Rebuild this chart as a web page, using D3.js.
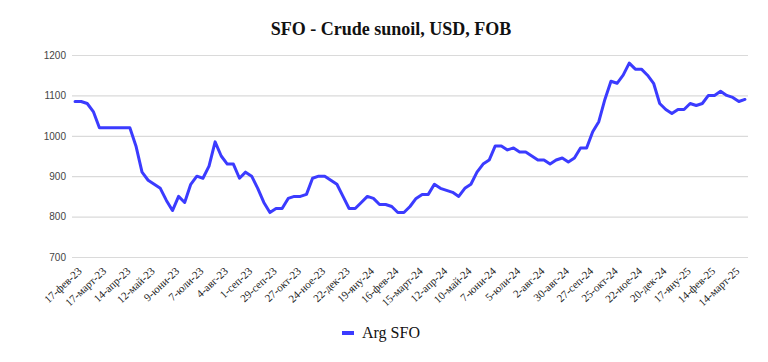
<!DOCTYPE html>
<html>
<head>
<meta charset="utf-8">
<script src="https://cdn.jsdelivr.net/npm/d3@7"></script>
<style>
  body { margin: 0; background: #fff; }
  svg { display: block; }
  .serif { font-family: 'Liberation Serif', 'Times New Roman', 'DejaVu Serif', serif; }
  .sans { font-family: 'Liberation Sans', Arial, sans-serif; }
</style>
</head>
<body>
<svg id="chart" width="768" height="362"></svg>
<script>
// weekly prices, 17-фев-23 .. 28-март-25
const price = [
  1085, 1085, 1080, 1060, 1020, 1020, 1020, 1020, 1020, 1020,
  975, 910, 890, 880, 870, 840, 815, 850, 835, 880,
  900, 895, 925, 985, 950, 930, 930, 895, 910, 900,
  870, 835, 810, 820, 820, 845, 850, 850, 855, 895,
  900, 900, 890, 880, 850, 820, 820, 835, 850, 845,
  830, 830, 825, 810, 810, 825, 845, 855, 855, 880,
  870, 865, 860, 850, 870, 880, 910, 930, 940, 975,
  975, 965, 970, 960, 960, 950, 940, 940, 930, 940,
  945, 935, 945, 970, 970, 1010, 1035, 1090, 1135, 1130,
  1150, 1180, 1165, 1165, 1150, 1130, 1080, 1065, 1055, 1065,
  1065, 1080, 1075, 1080, 1100, 1100, 1110, 1100, 1095, 1085, 1090
];

// one label every 4th week
const tickLabels = [
  '17-фев-23', '17-март-23', '14-апр-23', '12-май-23', '9-юни-23', '7-юли-23',
  '4-авг-23', '1-сеп-23', '29-сеп-23', '27-окт-23', '24-ное-23', '22-дек-23',
  '19-яну-24', '16-фев-24', '15-март-24', '12-апр-24', '10-май-24', '7-юни-24',
  '5-юли-24', '2-авг-24', '30-авг-24', '27-сеп-24', '25-окт-24', '22-ное-24',
  '20-дек-24', '17-яну-25', '14-фев-25', '14-март-25'
];
const yTicks = [700, 800, 900, 1000, 1100, 1200];
const seriesName = 'Arg SFO';
const title = 'SFO - Crude sunoil, USD, FOB';

const lineColor = '#3b3bff';
const svg = d3.select('#chart');

// plot box
const plot = { left: 72, right: 748, top: 55, bottom: 257 };

const x = d3.scalePoint()
  .domain(d3.range(price.length))
  .range([plot.left, plot.right])
  .padding(0.5);

const y = d3.scaleLinear()
  .domain([700, 1200])
  .range([plot.bottom, plot.top]);

// title
svg.append('text')
  .attr('class', 'serif')
  .attr('x', 391)
  .attr('y', 35)
  .attr('text-anchor', 'middle')
  .attr('font-weight', 'bold')
  .attr('font-size', 18)
  .attr('fill', '#111')
  .text(title);

// gridlines + y labels
const yAxis = svg.append('g')
  .attr('class', 'axis axis-y')
  .attr('transform', 'translate(' + plot.left + ',0)')
  .call(d3.axisLeft(y)
    .tickValues(yTicks)
    .tickFormat(d3.format('d'))
    .tickSize(-(plot.right - plot.left))
    .tickPadding(6));

yAxis.attr('font-family', null).attr('font-size', null);
yAxis.select('.domain').remove();
yAxis.selectAll('line')
  .attr('stroke', '#dadada')
  .attr('stroke-width', 1.2);
yAxis.selectAll('text')
  .attr('class', 'sans')
  .attr('font-size', 10)
  .attr('fill', '#444');

// x labels, slanted
const xAxis = svg.append('g')
  .attr('class', 'axis axis-x')
  .attr('transform', 'translate(0,' + plot.bottom + ')')
  .call(d3.axisBottom(x)
    .tickValues(d3.range(0, price.length, 4).slice(0, tickLabels.length))
    .tickFormat((d, i) => tickLabels[i])
    .tickSize(0));

xAxis.attr('font-family', null).attr('font-size', null);
xAxis.select('.domain').remove();
xAxis.selectAll('text')
  .attr('class', 'serif')
  .attr('text-anchor', 'end')
  .attr('dy', null)
  .attr('y', 0)
  .attr('transform', 'translate(7,15) rotate(-43)')
  .attr('font-size', 11)
  .attr('fill', '#222');

// the line
const line = d3.line()
  .x((d, i) => x(i))
  .y(d => y(d));

svg.append('path')
  .datum(price)
  .attr('d', line)
  .attr('fill', 'none')
  .attr('stroke', lineColor)
  .attr('stroke-width', 3)
  .attr('stroke-linejoin', 'round')
  .attr('stroke-linecap', 'round');

// legend
const legend = svg.append('g').attr('transform', 'translate(342,333)');
legend.append('line')
  .attr('x1', 0).attr('x2', 12)
  .attr('y1', 0).attr('y2', 0)
  .attr('stroke', lineColor)
  .attr('stroke-width', 4);
legend.append('text')
  .attr('class', 'serif')
  .attr('x', 20)
  .attr('y', 5)
  .attr('font-size', 16)
  .attr('fill', '#111')
  .text(seriesName);
</script>
</body>
</html>
